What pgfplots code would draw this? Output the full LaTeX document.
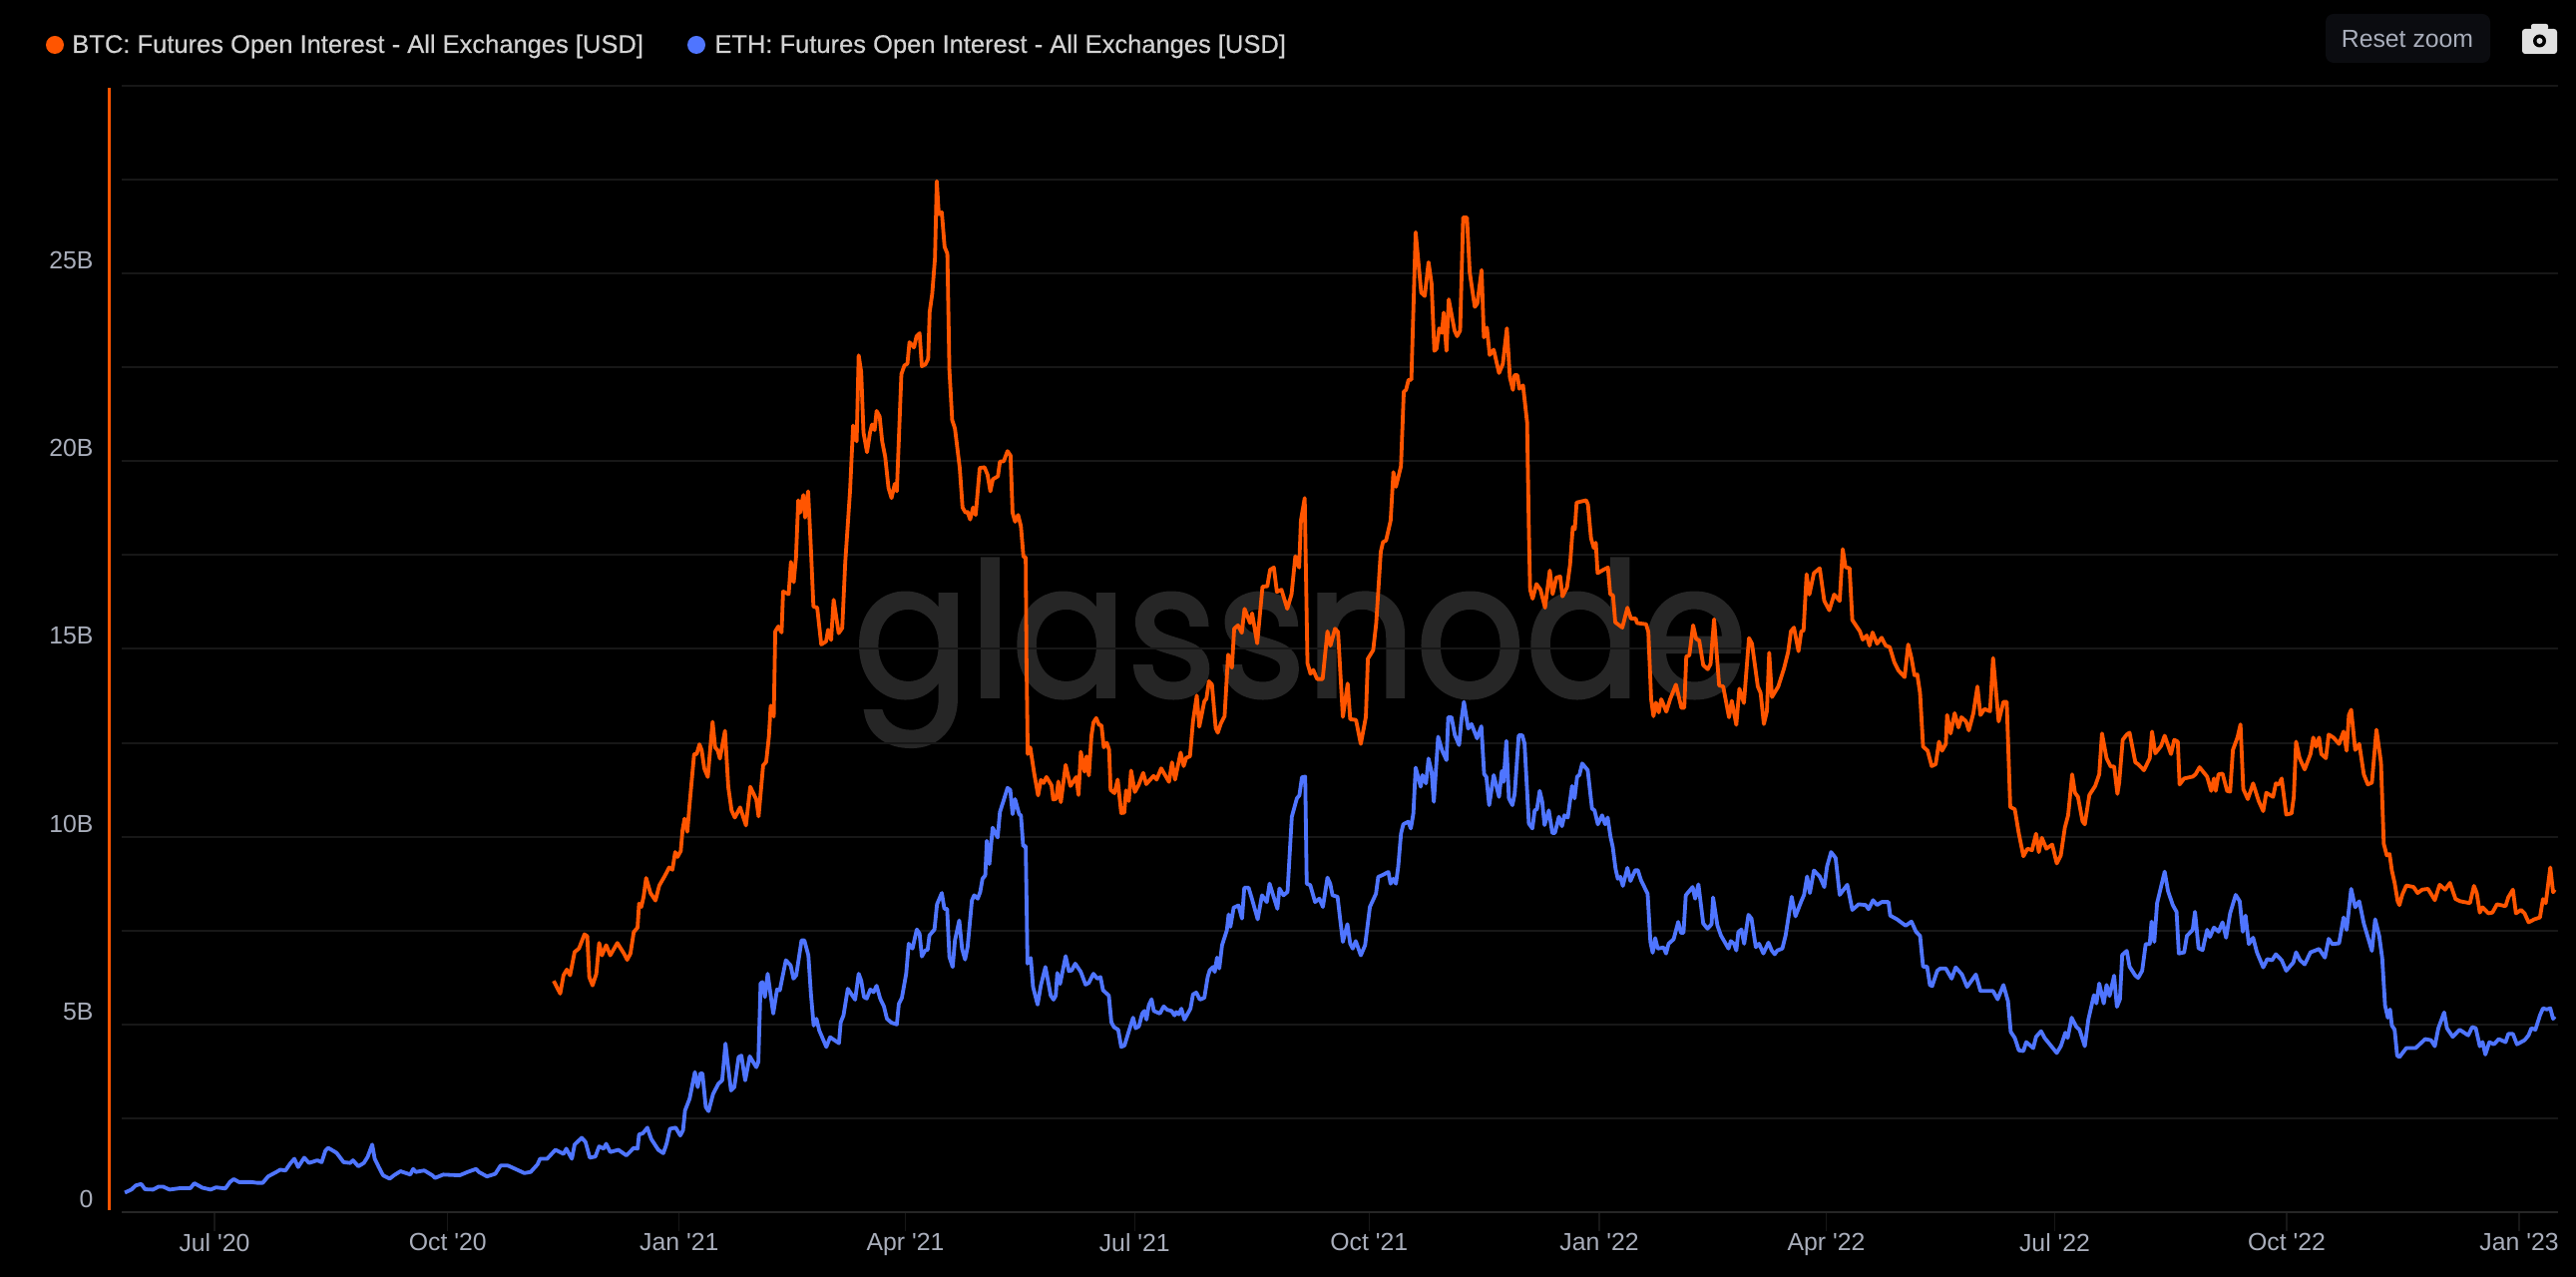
\documentclass[border=0pt]{standalone}
\usepackage{fontspec}
\setmainfont{Liberation Sans}[FakeBold=0.4]
\newfontfamily\wmfont{Poppins}[FakeBold=2]
\newfontfamily\plainfont{Liberation Sans}
\usepackage{pgfplots}
\pgfplotsset{compat=1.18}
\definecolor{btc}{HTML}{FF5500}
\definecolor{eth}{HTML}{4F75FF}
\definecolor{gridc}{HTML}{171717}
\definecolor{basec}{HTML}{262626}
\definecolor{tickc}{HTML}{A9AEBB}
\definecolor{wm}{HTML}{262626}
\definecolor{legc}{HTML}{D2D2D2}
\definecolor{btnc}{HTML}{0B0C10}
\definecolor{camc}{HTML}{E0E0E0}
\begin{document}
\begin{tikzpicture}
\begin{scope}[x=0.5pt,y=0.5pt]
\useasboundingbox (0,0) rectangle (2582,1280);
\fill[black] (0,0) rectangle (2582,1280);
% watermark
\node[anchor=base west,inner sep=0pt,text=wm,xscale=0.923,font=\wmfont\fontsize{93}{93}\selectfont] at (855,582) {glassnode};
% legend
\fill[btc] (55,1235) circle (9);
\node[anchor=base west,inner sep=0pt,text=legc,font=\fontsize{12.75}{14}\selectfont] at (72,1227) {BTC: Futures Open Interest - All Exchanges [USD]};
\fill[eth] (698,1235) circle (9);
\node[anchor=base west,inner sep=0pt,text=legc,font=\fontsize{12.75}{14}\selectfont] at (716,1227) {ETH: Futures Open Interest - All Exchanges [USD]};
% reset zoom button
\fill[btnc,rounded corners=4pt] (2331,1217) rectangle (2496,1266);
\node[anchor=center,inner sep=0pt,text=tickc,font=\plainfont\fontsize{12.4}{14}\selectfont] at (2413,1241) {Reset zoom};
% camera icon
\fill[camc,rounded corners=1.5pt] (2528,1226) rectangle (2563,1251);
\fill[camc,rounded corners=1pt] (2537,1250) rectangle (2554,1256);
\fill[black] (2545.5,1239) circle (6.5);
\fill[camc] (2545.5,1239) circle (3);
% y axis colour bar
\draw[btc,line width=1.6pt] (109.7,67) -- (109.7,1192);
\end{scope}
\begin{axis}[
  at={(60.9pt,32.5pt)},anchor=south west,
  scale only axis,width=1221.1pt,height=564.5pt,
  xmin=-36.8,xmax=927.4,ymin=0,ymax=30,
  axis line style={draw=none},
  ytick={0,5,10,15,20,25},
  yticklabels={0,5B,10B,15B,20B,25B},
  minor ytick={2.5,7.5,12.5,17.5,22.5,27.5,30},
  ymajorgrids,yminorgrids,
  major grid style={gridc,line width=1pt},
  minor grid style={gridc,line width=1pt},
  xtick={0,92.3,183.9,273.4,364.1,456.9,548,637.8,728.2,820,912},
  xticklabels={Jul '20,Oct '20,Jan '21,Apr '21,Jul '21,Oct '21,Jan '22,Apr '22,Jul '22,Oct '22,Jan '23},
  xtick pos=bottom,
  ytick pos=left,
  tick align=outside,
  major tick length=9.5pt,
  x tick style={draw=gridc,line width=0.6pt},
  y tick style={draw=none},
  minor tick length=0pt,
  tick label style={text=tickc,font=\plainfont\fontsize{12.4}{14}\selectfont},
  x tick label style={inner sep=0pt,anchor=north,yshift=-1pt},
  y tick label style={yshift=6.5pt,xshift=-4.5pt,inner sep=0pt,anchor=east},
  /pgf/number format/assume math mode=true,
  clip=false,
]
\draw[basec,line width=1.2pt] (axis cs:-36.8,0) -- (axis cs:927.4,0);
\addplot[btc,line width=1.9pt,line join=round,no markers] coordinates {
(134.2,6.16)(136.8,5.82)(138.1,6.31)(139.4,6.46)(140.7,6.31)(142.5,6.93)(144.2,7.02)(146.4,7.4)(147.5,7.35)(148.3,6.26)(149.6,6.04)(151.1,6.35)(152.2,7.17)(153.3,6.84)(155,7.11)(156.6,6.84)(159.4,7.17)(162,6.89)(163.3,6.72)(164.6,6.89)(165.9,7.46)(167.4,7.58)(168,8.22)(168.9,8.13)(169.8,8.4)(170.8,8.9)(172.5,8.5)(174.5,8.3)(176,8.7)(178.3,8.97)(179.9,9.18)(181.2,9.12)(182.3,9.59)(183.2,9.46)(184.5,9.62)(185.2,10.17)(186,10.48)(187.1,10.13)(187.9,10.79)(189.8,12.2)(190.8,12.2)(191.9,12.46)(192.8,12.3)(193.8,11.82)(195.2,11.59)(197.1,13.06)(198.1,12.38)(199.1,12.3)(200,12.08)(202,12.82)(203.3,11.33)(204.6,10.7)(205.9,10.51)
(208,10.78)(210.3,10.3)(212,11.33)(214.4,10.99)(215.3,10.54)(217.1,11.9)(218.3,11.99)(219.4,12.68)(220.1,13.49)(221.3,13.2)(221.9,15.47)(223.1,15.6)(224.4,15.44)(225,16.53)(227.2,16.46)(228.1,17.32)(229.2,16.78)(230.1,17.44)(231,18.96)(231.7,18.63)(233,19.1)(233.7,18.5)(234.9,19.2)(236,17.68)(237,16.13)(238.5,16.1)(240.1,15.12)(242,15.2)(242.8,15.51)(244,15.24)(245,16.31)(247,15.42)(248.4,15.56)(249.6,17.32)(251.5,19.22)(252.7,20.95)(254.1,20.53)(254.9,22.82)(255.9,22.38)(256.8,20.77)(258.2,20.24)(259.4,20.77)(260.2,20.98)(261.2,20.83)(262,21.34)(263.2,21.19)(264.2,20.53)(265.4,20.12)(266.7,19.29)(267.9,19.02)(269.2,19.4)(270,19.2)(271.8,22.32)(273,22.55)(274.2,22.6)(275,23.17)(276.8,23.03)(277.8,23.33)(279,23.41)(279.9,22.53)(281.3,22.58)(282.4,22.73)(283,23.98)(284,24.46)(285.1,25.41)(285.8,27.46)(286.6,26.58)(287.8,26.63)(288.9,25.71)(290,25.53)(290.8,22.44)(291.9,21.1)(293,20.87)(294.9,19.82)(296,18.77)(297.2,18.63)(298,18.65)(299,18.45)(300.2,18.77)(301.2,18.57)(302.8,19.82)(304.7,19.84)(305.9,19.64)(307,19.2)(308,19.52)(310,19.6)(310.8,19.99)(312.3,20)(313.8,20.27)(315,20.15)(315.8,18.63)(316.8,18.39)(318,18.57)(319.1,18.27)(320.1,17.46)(321,17.44)(321.3,14.7)(321.8,12.2)(322.8,12.38)(324.4,11.67)(325.9,11.1)(327,11.51)(328.1,11.43)(329.2,11.59)(331.2,11.37)(331.9,10.99)(333.1,11.01)(333.9,11.47)(334.9,10.92)(336.8,11.91)(338.7,11.35)(341,11.59)(341.9,11.11)(342.8,12.26)(344.3,11.73)(345.1,12.14)(346,11.63)(347,12.68)(347.8,13.04)(348.9,13.16)(350,12.98)(351,12.96)(351.9,12.38)(353.1,12.5)(354,12.32)(354.6,11.25)(356.1,11.16)
(357.4,11.52)(358.8,10.63)(360,10.64)(360.7,11.23)(361.8,10.95)(362.7,11.76)(364.2,11.19)(365.7,11.38)(367.5,11.7)(368.7,11.4)(371.6,11.62)(372.8,11.52)(374.6,11.82)(377.7,11.46)(378.9,11.98)(380.1,11.52)(382.3,12.24)(383.5,11.88)(384.5,12.1)(386,12.14)(387.2,13.07)(388.7,13.76)(389.7,12.93)(391.7,13.61)(392.5,13.67)(393.5,14.14)(394.7,14.05)(396.2,12.89)(397,12.77)(398.2,13.01)(399.7,13.21)(401.1,14.85)(402.6,14.5)(403.5,15.54)(405,15.63)(406.5,15.43)(407.6,16.07)(409.8,15.69)(410.6,15.95)(412.6,15.15)(414.7,16.66)(416.6,16.67)(417.7,17.11)(419.2,17.17)(420.4,16.52)(422.2,16.58)(424.5,16.07)(426.2,16.46)(427.7,17.47)(429.2,17.17)(429.9,18.42)(431.4,19.02)(432.5,14.62)(433.7,14.34)(434.8,14.44)(436.3,14.2)(438.5,14.2)(440.4,15.47)(441.6,15.09)(443.4,15.54)(444.6,15.45)(446.5,13.19)(448.4,14.08)(449.4,13.13)(451.7,13.11)(453.6,12.47)(455.6,13.19)(456.4,14.74)(458.5,14.97)(459.7,15.69)(461.5,17.59)(462.4,17.85)(463.6,17.89)(465.4,18.42)(466.5,19.71)(467.5,19.32)(469.5,19.87)(470.6,21.85)(471.5,21.9)(472.5,22.17)(473.6,22.17)(475.3,26.1)(477.5,24.49)(478.9,24.4)(480.4,25.3)(481.6,24.73)(482.7,22.94)(483.6,23)(484.6,23.54)(485.7,23.42)(486.4,23.96)(487.5,22.94)(488.4,24.31)(490.7,23.48)(491.7,23.33)(492.9,23.48)(494.1,26.49)(495.6,26.49)(496.7,25.03)(498.7,24.11)(499.7,24.2)(501.4,25.09)(502.3,23.3)(503.5,23.56)(504.6,22.83)(506.2,22.97)(508.3,22.35)(509.8,22.59)(511.4,23.54)(512.6,22.23)(513.8,21.9)(514.4,22.29)(515.6,22.29)(516.3,21.93)(517.8,22.02)(519.4,21.04)(520.1,18.19)(520.6,16.58)(521.6,16.34)(523.1,16.73)(524.7,16.58)(526.5,16.1)(528.4,17.09)(529.5,16.46)(531,16.9)(532.5,16.93)(533.4,16.4)(535.2,16.64)(536.4,17.24)(537.5,18.25)(538.3,18.19)(539,18.9)(542.8,18.96)(543.5,18.84)(544.7,17.95)(545.8,17.69)(546.6,17.83)(547.3,17.02)(549.6,17.11)(551.4,17.17)(552.3,16.46)(553.4,16.43)(554.3,15.71)(557.1,15.57)(559.1,16.1)(560.5,15.81)(562.4,15.81)(562.9,15.69)(566.5,15.66)(567.4,15.45)(568.5,13.66)(569.4,13.21)(570.4,13.57)(571.5,13.31)(572.5,13.66)(574.5,13.33)(576,13.66)(578.3,14.05)(580.5,13.43)(581.6,13.43)(582.4,14.8)(583.6,14.83)(585.1,15.63)
(586.3,15.27)(587.5,15.23)(589.1,14.57)(590.9,14.46)(592,14.6)(593.4,15.79)(595.4,14.03)(597,14)(599.3,13.18)(600.4,13.62)(602.2,12.98)(603.4,13.94)(605.2,13.56)(607.2,15.29)(608.4,15.14)(610.7,14)(611.8,13.83)(613.1,13)(614.3,13.34)(615.2,14.9)(616.3,13.72)(618.8,14)(621.1,14.49)(622.7,14.92)(623.8,15.47)(625,15.57)(626.8,14.94)(627.9,15.47)(628.8,15.49)(630,16.99)(631.1,16.45)(632.9,17.02)(635.2,17.15)(637,16.28)(639,16.03)(640.9,16.45)(643.1,16.28)(644.3,17.66)(645.4,17.18)(647,17.15)(648.1,15.77)(651.1,15.47)(652.2,15.25)(653.8,15.36)(654.9,15.09)(656.1,15.44)(657.9,15.14)(659.7,15.3)(661.3,15.09)(662.9,15.05)(664.7,14.65)(666.3,14.43)(668.8,14.25)(670.2,15.12)(671.5,14.76)(672.7,14.3)(673.8,14.32)(674.9,13.83)(676.1,12.4)(677.9,12.29)(679.5,11.88)(681.1,11.93)(682.4,12.53)(683.6,12.29)(685.1,12.47)(685.6,13.24)(687,12.75)(688.6,13.29)(690.1,12.91)(691.3,13.18)(693.1,13.07)(694.2,12.83)(696,13.29)(697.6,14)(698.8,13.24)(700.4,13.4)(702.6,13.34)(703.8,14.76)(706,13.07)(707.9,13.59)(709.2,13.59)(710.6,10.79)(712.4,10.73)(714,10.08)(715.8,9.48)(717.4,9.68)(719.2,9.64)(720.8,10.08)(721.9,9.59)(723.1,9.97)(724.9,9.68)(727.2,9.79)(729,9.29)(730.6,9.5)(732.2,10.24)(733.5,10.57)(735.1,11.66)(736.2,11.17)(737.4,11.06)(739.2,10.41)(740.1,10.33)(741.9,11.11)(744.2,11.35)(745.8,11.66)(746.9,12.75)(748.7,12.09)(750.3,11.87)(751.7,11.87)(753,11.14)(753.7,11.44)(755.1,12.58)(756.7,12.72)(757.8,12.77)(760.1,11.98)(761.2,11.93)(763.5,11.77)(765.8,12.09)(766.7,12.8)(768,12.22)(770.3,12.42)(771.7,12.69)(774.2,12.2)(775.5,12.58)(776.9,12.53)(777.6,11.39)(779.4,11.55)(782.8,11.6)(783.9,11.66)(785.5,11.85)(788.5,11.6)(790.1,11.22)(791.2,11.55)(791.9,11.22)(793,11.66)(794.6,11.68)(796.4,11.22)(797.6,11.2)(798.7,12.31)(800.5,12.64)(801.7,12.99)(802.8,11.27)(804.6,11)(806.7,11.42)(808.9,10.95)(810.7,10.68)(811.9,11.17)(814.6,11.06)(815.7,11.42)(816.9,11.39)(818,11.55)(819.8,10.59)(821.9,10.62)(822.8,11.06)(823.7,12.53)(825.1,12.09)(827.1,11.79)(829.4,12.2)(830.5,12.64)(831.6,12.4)(832.8,12.64)(833.7,12.2)(835.5,12.09)(836.6,12.72)(838.5,12.64)(840.7,12.47)(842.5,12.8)(843.7,12.29)(844.6,13.24)(845.5,13.38)(847.1,12.31)(848.7,12.47)(850.5,11.66)(852.1,11.39)(853.7,11.44)(855.5,12.85)(857.3,11.98)(858.4,9.81)(859.6,9.5)(860.7,9.54)(861.6,9.1)(862.7,8.77)(863.9,8.28)(864.6,8.18)(865.7,8.45)(867.3,8.7)(870.2,8.66)(871.8,8.5)(873.6,8.59)(875.9,8.61)(878.6,8.31)(880.5,8.72)(882.7,8.59)(884.6,8.77)(886.8,8.34)(888.7,8.28)(892.5,8.23)(894.1,8.69)(895.2,8.5)(896.4,7.98)(897.5,8.12)(899.8,7.96)(901.4,7.98)(903.2,8.2)(906.6,8.15)(907.7,8.39)(909.5,8.59)(910.7,7.96)(912.7,8.05)(914.1,7.96)(915.7,7.72)(918,7.8)(920.2,7.85)(921.4,8.34)(922.5,8.23)(924.3,9.18)(925.4,8.52)(926.1,8.59)
};
\addplot[eth,line width=1.9pt,line join=round,no markers] coordinates {
(-35.5,0.52)(-32.9,0.6)(-31.2,0.71)(-29,0.75)(-27.5,0.61)(-24.3,0.6)(-22.1,0.68)(-20.4,0.68)(-17.8,0.6)(-13.4,0.64)(-9.5,0.64)(-8,0.77)(-4.8,0.65)(-1.5,0.6)(0.6,0.66)(4.3,0.63)(6.1,0.8)(7.6,0.88)(9.7,0.8)(14.7,0.8)(16.9,0.78)(19.1,0.78)(21.2,0.95)(24.5,1.07)(26,1.13)(28.1,1.11)(29.9,1.29)(31.6,1.42)(33.1,1.2)(35.5,1.45)(37.4,1.31)(40.7,1.38)(42.4,1.33)(43.9,1.64)(45,1.71)(48.3,1.58)(51.1,1.33)(53.7,1.31)(54.8,1.38)(56.9,1.22)(59.1,1.31)(60.6,1.47)(62.4,1.8)(63.4,1.42)(65,1.2)(66.7,0.98)(69.3,0.89)(71,0.98)(73.6,1.09)(77.5,1)(78.6,1.15)(79.7,1.07)(83,1.11)(86.2,0.98)(87.3,0.91)(90.5,1)(97,0.98)(100.2,1.07)(103.5,1.15)(104.6,1.07)(107.8,0.95)(111.1,1.02)(113.2,1.24)(116.1,1.24)(119.7,1.13)(122.6,1.04)(125.1,1.07)(127.8,1.27)(128.8,1.42)(131.6,1.42)(134.9,1.66)(138.1,1.55)(139.2,1.69)(141.4,1.42)(142.5,1.8)(145.3,1.98)(146.8,1.87)(148.5,1.45)(150.7,1.48)(152.2,1.75)(154,1.69)(155,1.82)(156.6,1.6)(159.8,1.66)(163,1.51)(165.9,1.71)(167.4,1.69)(168,2.07)(169.5,2.1)(171.3,2.25)(172.8,1.95)(175.6,1.66)(177.6,1.57)(178.9,1.82)(180.2,2.22)(182.5,2.25)(184.3,2.04)(185.4,2.18)(186.2,2.71)(188,3.02)(190.1,3.73)(191.2,3.33)(192.3,3.7)(193.1,3.69)(194.4,2.8)(195.5,2.69)(197.3,3.15)(199.4,3.42)(200.9,3.51)(202.2,4.49)(203.1,3.95)(204.4,3.24)(205.7,3.33)(207.4,4.13)(208.5,4.17)(210,3.51)(211.8,4.15)(214.4,3.86)(215.2,4)(216.1,6.09)(216.8,6.13)(217.8,5.73)(218.9,6.35)(221.1,5.29)(222.6,5.93)(223.7,5.91)(226.1,6.71)(228,6.57)(229.1,6.22)(230.2,6.31)(232.3,7.24)(233.4,7.24)(235,6.84)(236,5.82)(237.1,4.97)(238.2,5.15)(239.3,4.84)(242.1,4.4)(243.6,4.66)(247.1,4.5)
(247.8,5.06)(248.9,5.24)(250.6,5.95)(253.5,5.66)(254.9,6.35)(255.9,6.17)(257,5.73)(258.1,5.69)(259.5,5.93)(260.8,5.86)(262,6.03)(263.4,5.69)(264.9,5.48)(266.1,5.15)(267.8,5.05)(270,5)(270.8,5.55)(272,5.71)(273.7,6.35)(274.7,7.15)(276.2,7.02)(277.9,7.53)(279,7.42)(279.9,6.81)(281.2,6.97)(282.2,6.99)(282.9,7.37)(284.9,7.53)(285.9,8.2)(287.8,8.5)(288.8,8.08)(289.9,8.08)(290.8,6.8)(292.1,6.53)(293,7.24)(294.7,7.77)(295.8,7.02)(297,6.73)(298,7.06)(299.7,8.3)(300.6,8.44)(302,8.35)(303,8.53)(303.9,8.88)(305,8.97)(305.6,9.89)(306.6,9.27)(307.9,10.24)(309.9,9.98)(310.8,10.66)(312.1,10.93)(313.8,11.3)(314.9,11.24)(315.8,10.6)(316.8,11)(318.4,10.6)(319.1,10.57)(320,9.75)(321,9.75)(321.7,6.62)(323,6.77)(323.9,6)(325.7,5.53)(327,6.04)(328.8,6.53)(330.9,5.77)(332,5.66)(332.9,5.77)(333.5,6.37)(334.6,6.08)(336.8,6.82)(338.1,6.42)(339.2,6.44)(340.6,6.62)(342.8,6.4)(344.7,6.06)(346,6.11)(347.8,6.35)(349.3,6.22)(350.6,6.26)(351.6,5.91)(353.9,5.77)(354.9,5.06)(355.9,4.93)(357.6,4.86)(358.8,4.4)(360.1,4.44)(362.5,4.97)(363.5,5.18)(364.5,4.9)(365.8,4.95)(367.1,5.29)(368,5.36)(368.8,5.13)(369.7,5.51)(370.8,5.67)(371.7,5.36)(374.1,5.29)(375.6,5.48)(377,5.39)(378.7,5.36)(379.9,5.24)(380.6,5.33)(381.6,5.27)(382.6,5.42)(383.8,5.13)(386.2,5.42)(387.2,5.8)(388.5,5.85)(389.9,5.66)(391.7,5.71)(393,6.26)(393.8,6.44)(395.1,6.53)(395.8,6.4)(396.7,6.78)(397.6,6.49)(398.7,7.11)(400.6,7.51)(401.3,7.93)(402,7.6)(403.3,8.11)(405.2,8.17)(406.6,7.82)(407.5,8.64)(409.2,8.64)(410.5,8.35)(412.8,7.8)(414.5,8.44)(416.4,8.26)(417.5,8.75)(419.1,8.4)(420.6,8.08)(421.4,8.62)(423,8.44)(424.6,8.53)(426.3,10.53)(428.3,11.02)(429.3,11.1)(430.3,11.58)(431.6,11.6)
(432.2,8.75)(433.6,8.71)(435.5,8.26)(437.2,8.35)(438.6,8.13)(440.4,8.91)(441.5,8.75)(442.4,8.44)(444.4,8.4)(445.4,7.82)(446.5,7.2)(448.3,7.67)(449.4,7.15)(450.4,7.02)(451.6,7.22)(453.6,6.84)(455.3,7.11)(457.2,8.13)(459.6,8.48)(460.5,8.93)(461.9,8.97)(464.5,9.06)(465.4,8.75)(466.5,8.88)(467.5,8.75)(468.4,9.2)(469.5,10.08)(470.4,10.33)(472.4,10.4)(473.4,10.22)(474.4,10.62)(475.3,11.84)(477.3,11.33)(478,11.64)(479.4,11.42)(480.4,12.08)(481.6,11.73)(482.5,10.93)(484.2,12.66)(485.8,12.29)(487.5,12.04)(488.2,13.18)(489.5,13.18)(490.8,12.71)(492.5,12.44)(493.4,13.1)(494.4,13.59)(496.1,12.88)(497.4,13)(499.6,12.62)(501.3,12.94)(502.4,11.67)(503.3,11.59)(504.4,10.84)(506.2,11.64)(508.3,11.06)(509.4,11.75)(510.1,11.46)(511.2,12.55)(512.2,11.02)(513.6,10.84)(514.5,11.15)(516.1,12.7)(517.5,12.7)(518.4,12.48)(520.1,10.35)(521.5,10.22)(522.4,10.7)(523.3,10.73)(524.4,11.22)(525.4,10.93)(526.3,10.31)(528,10.7)(529.4,10.1)(530.4,10.1)(532,10.53)(533.2,10.28)(534.2,10.57)(535.5,10.51)(537.2,11.35)(538.2,11.02)(539.2,11.6)(540.1,11.64)(541.2,11.95)(543.4,11.77)(545.1,10.75)(546.1,10.7)(547.4,10.33)(549.1,10.57)(550.3,10.33)(551.3,10.51)(552.4,10)(553.3,9.73)(554.4,9.15)(555.3,8.88)(556.3,8.93)(557.3,8.69)(559.1,9.17)(560.3,8.82)(562.2,9.11)(563.2,9.11)(564.5,8.84)(567.1,8.48)(568.2,7.2)(569.1,6.91)(570.1,7.3)(571.1,7.02)(573.4,7.05)(574.4,6.89)(575.4,7.15)(577.4,7.27)(579.2,7.73)(580.3,7.44)(581.3,7.44)(582.2,8.44)(584.9,8.66)(585.9,8.35)(587.2,8.73)(589.1,7.69)(590.8,7.55)(592.4,7.67)(593,8.38)(594.7,7.64)(596.1,7.37)(599.1,7.02)(600,7.22)(601.3,7.15)(602.2,6.97)(603,7.46)(604.2,7.53)(605.3,7.15)(607,7.92)(608.2,7.82)(609.9,7.06)(611.2,7.15)(612.9,6.89)(614.9,7.18)(616.2,6.97)(617.4,6.87)(618.4,6.97)(620.4,7.02)(621.7,7.37)(624.1,8.4)(625.6,7.88)
(627.9,8.28)(629,8.45)(630.2,8.94)(631.3,8.5)(632.9,9.1)(635.2,8.94)(637,8.66)(638.1,9.21)(639.7,9.59)(641.5,9.43)(643.1,8.45)(646.1,8.72)(648.1,8.05)(650.6,8.2)(653.4,8.18)(654.5,8.07)(656.3,8.31)(657.9,8.18)(659.7,8.26)(662.4,8.26)(663.1,7.9)(665.8,7.8)(669.2,7.63)(671.5,7.74)(673.3,7.47)(674.9,7.36)(676.1,6.54)(677.7,6.54)(678.8,6.05)(679.7,6.02)(681.7,6.43)(682.9,6.49)(685.1,6.49)(687.4,6.22)(689,6.52)(691.5,6.33)(693.5,6)(697,6.33)(698.8,5.89)(703.8,5.89)(705.6,5.67)(707.9,6.05)(709.7,5.62)(710.8,4.8)(712.4,4.64)(714,4.31)(715.8,4.29)(716.9,4.53)(719.7,4.37)(720.8,4.67)(722.8,4.82)(724.2,4.64)(729,4.24)(730.6,4.42)(732.4,4.78)(733.3,4.64)(734.9,5.18)(736.7,4.94)(738,4.86)(740.1,4.42)(741.5,5.13)(743.7,5.78)(744.7,5.56)(745.8,6.09)(747.6,5.56)(748.7,6.05)(749.9,5.76)(751.7,6.3)(752.8,5.47)(754,5.67)(754.9,6.85)(756.7,6.96)(757.8,6.54)(760.1,6.3)(761.2,6.24)(762.8,6.43)(764.2,7.14)(765.8,7.14)(766.5,7.74)(767.6,7.2)(768.7,8.23)(771.7,9.07)(773,8.56)(774.9,8.18)(776.4,8)(777.3,6.89)(779.4,6.92)(780.5,7.36)(782.8,7.52)(783.7,8)(785.1,7.03)(786.7,6.98)(788.5,7.52)(789.6,7.33)(791.2,7.58)(793,7.47)(794.6,7.72)(796,7.31)(797.6,7.96)(799.8,8.45)(801.4,8.28)(802.6,7.47)(803.7,7.9)(805,7.14)(806.7,7.31)(808.2,6.92)(810.7,6.52)(812.3,6.74)(814.2,6.71)(815.7,6.87)(818,6.71)(819.8,6.43)(822.6,6.65)(823.7,6.92)(825.3,6.71)(827.1,6.6)(829.4,6.92)(832.8,7.01)(835.1,6.78)(836.6,7.28)(838,7.14)(840.7,7.16)(842.5,7.85)(843.7,7.52)(845.5,8.61)(847.1,8.12)(848.7,8.28)(850.5,7.69)(853.7,6.96)(855,7.8)(856.6,7.36)(857.8,6.76)(858.9,5.51)(860,5.18)(860.9,5.4)(861.6,4.97)(862.7,4.86)(863.7,4.17)(864.6,4.13)(867.3,4.37)(871,4.37)(874.8,4.61)(877.1,4.58)(878.6,4.42)(880,4.9)(882.3,5.32)(883.4,4.9)(885.7,4.67)(888.4,4.86)(891.8,4.71)(893.4,4.93)(894.8,4.9)(896.4,4.42)(897.5,4.53)(898.6,4.2)(900.2,4.53)(902,4.47)(903.9,4.61)(906.6,4.53)(907.7,4.75)(909.5,4.75)(911.1,4.47)(914.1,4.58)(915.7,4.71)(916.8,4.9)(918.4,4.86)(920.2,5.24)(921.4,5.43)(922.9,5.4)(924.3,5.43)(925.4,5.15)(926.1,5.21)
};
\end{axis}
\end{tikzpicture}
\end{document}
